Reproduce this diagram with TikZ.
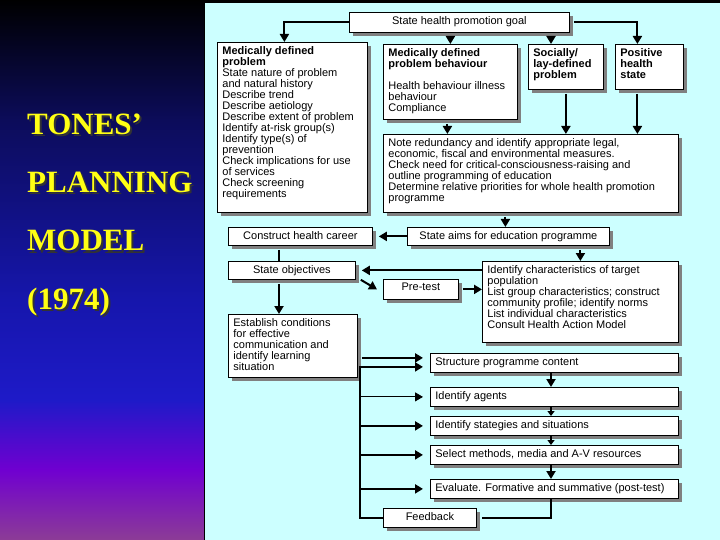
\documentclass[tikz,border=0pt]{standalone}
\usepackage{fontspec}
\setmainfont{Liberation Sans}
\newfontfamily\titleserif{Liberation Serif}
\usetikzlibrary{arrows.meta,shadows}

\definecolor{panelcyan}{RGB}{204,255,255}
\definecolor{shadowgray}{RGB}{128,128,128}
\definecolor{bgnavy}{RGB}{12,12,90}
\definecolor{bgblue}{RGB}{22,22,172}
\definecolor{bgroyal}{RGB}{30,26,200}
\definecolor{bgviolet}{RGB}{112,0,208}
\definecolor{bgmauve}{RGB}{140,60,150}
\definecolor{titleyellow}{RGB}{255,255,20}

% box of fixed outer size (#1 x #2, in pt), text set from the top
\newcommand{\stagetext}[3]{%
  \parbox[c][\dimexpr#2pt-8pt\relax][t]{\dimexpr#1pt-10pt\relax}{\lineskiplimit=-4pt\raggedright #3}}
% yellow title word with a dark copy behind it, lower right
\newcommand{\shadowword}[1]{%
  \makebox[0pt][l]{\hspace{2pt}\raisebox{-2pt}{\color{black!80}#1}}#1}

\begin{document}
\begin{tikzpicture}[
  x = 1pt, y = -1pt,
  % white boxes with a hard grey shadow to the lower right
  stage/.style     = {draw, line width=0.8pt, fill=white, anchor=north west,
                      inner xsep=5pt, inner ysep=4pt,
                      font=\fontsize{11}{11}\selectfont,
                      general shadow={fill=shadowgray, shadow xshift=4pt, shadow yshift=-4pt}},
  link/.style      = {line width=2pt, -{Triangle[length=8pt,width=9pt]}},
  shortlink/.style = {line width=2pt, -{Triangle[length=5pt,width=7pt]}},
  thinlink/.style  = {line width=1pt, -{Triangle[length=8pt,width=9pt]}},
  wire/.style      = {line width=2pt},
  heading/.style   = {font=\titleserif\bfseries\fontsize{31}{31}\selectfont,
                      text=titleyellow, anchor=base west, inner sep=0pt},
]
\useasboundingbox (0, 0) rectangle (720, 540);

% --- background: dark gradient on the left, pale cyan panel on the right
\fill[black] (0, 0) rectangle (720, 540);
\shade[top color=black,    bottom color=bgnavy]   (0, 0)   rectangle (205, 120);
\shade[top color=bgnavy,   bottom color=bgblue]   (0, 120) rectangle (205, 300);
\shade[top color=bgblue,   bottom color=bgroyal]  (0, 300) rectangle (205, 400);
\shade[top color=bgroyal,  bottom color=bgviolet] (0, 400) rectangle (205, 470);
\shade[top color=bgviolet, bottom color=bgmauve]  (0, 470) rectangle (205, 540);
\fill[panelcyan] (205, 3) rectangle (720, 540);
\draw[black, line width=1pt] (204.5, 3) -- (204.5, 540);

% --- title
\foreach \word/\ypos [count=\i] in {TONES’/135, PLANNING/193, MODEL/251, (1974)/309} {
  \node[heading] (title-\i) at (27, \ypos) {\shadowword{\word}};
}

% --- top part: goal and the four kinds of problem
\node[stage] (goal) at (349, 12) {\stagetext{220}{20}{\centering State health promotion goal}};
\node[stage] (medprob) at (217, 42) {\stagetext{150}{170}{%
  \textbf{Medically defined}\\\textbf{problem}\\
  State nature of problem\\and natural history\\Describe trend\\
  Describe aetiology\\Describe extent of problem\\
  Identify at-risk group(s)\\Identify type(s) of\\prevention\\
  Check implications for use\\of services\\Check screening\\requirements}};
\node[stage] (medbeh) at (383, 44) {\stagetext{134}{75}{%
  \textbf{Medically defined}\\\textbf{problem behaviour}\\[11pt]
  Health behaviour illness\\behaviour\\Compliance}};
\node[stage] (social) at (528, 44) {\stagetext{75}{45}{%
  \textbf{Socially/}\\\textbf{lay-defined}\\\textbf{problem}}};
\node[stage] (positive) at (615, 44) {\stagetext{68}{45}{%
  \textbf{Positive}\\\textbf{health}\\\textbf{state}}};
\node[stage] (note) at (383, 134) {\stagetext{295}{78}{%
  Note redundancy and identify appropriate legal,\\
  economic, fiscal and environmental measures.\\
  Check need for critical-consciousness-raising and\\
  outline programming of education\\
  Determine relative priorities for whole health promotion\\
  programme}};

% --- middle part: aims, objectives, target population
\node[stage] (career) at (228, 227) {\stagetext{144}{18}{\centering Construct health career}};
\node[stage] (aims) at (407, 227) {\stagetext{202}{18}{\centering State aims for education programme}};
\node[stage] (objectives) at (228, 261) {\stagetext{127}{18}{\centering State objectives}};
\node[stage] (target) at (482, 261) {\stagetext{196}{81}{%
  Identify characteristics of target\\population\\
  List group characteristics; construct\\
  community profile; identify norms\\
  List individual characteristics\\
  Consult Health Action Model}};
\node[stage] (pretest) at (383, 279) {\stagetext{75}{20}{\centering Pre-test}};
\node[stage] (conditions) at (228, 314) {\stagetext{129}{63}{%
  Establish conditions\\for effective\\communication and\\
  identify learning\\situation}};

% --- lower part: the programme steps and feedback
\node[stage] (structure) at (430, 353) {\stagetext{248}{19}{Structure programme content}};
\node[stage] (agents) at (430, 387) {\stagetext{248}{19}{Identify agents}};
\node[stage] (strategies) at (430, 416) {\stagetext{248}{19}{Identify stategies and situations}};
\node[stage] (methods) at (430, 445) {\stagetext{248}{19}{Select methods, media and A-V resources}};
\node[stage] (evaluate) at (430, 479) {\stagetext{248}{19}{Evaluate. Formative and summative (post-test)}};
\node[stage] (feedback) at (383, 508) {\stagetext{93}{19}{\centering Feedback}};

\coordinate (socialin) at ([xshift=23pt]social.north west);
\coordinate (spine) at (279, 0);
\coordinate (bus) at (360, 0);
\coordinate (stack) at (551, 0);

% --- connectors, top
\draw[link] (goal.west) -| ([xshift=-8pt]medprob.north);
\draw[link] ([yshift=-4pt]goal.south -| medbeh.north) -- (medbeh.north);
\draw[link] ([yshift=-4pt]goal.south -| socialin) -- (socialin);
\draw[link] ([xshift=4pt]goal.east) -| ([xshift=-12pt]positive.north);
\draw[link] ([xshift=-3pt,yshift=-4pt]medbeh.south) -- ([xshift=-3pt]medbeh.south |- note.north);
\draw[link] ([yshift=-4pt]social.south) -- (social.south |- note.north);
\draw[link] ([xshift=-12pt,yshift=-4pt]positive.south) -- ([xshift=-12pt]positive.south |- note.north);
\draw[link] ([xshift=-3pt,yshift=-4pt]note.south -| aims.north) -- ([xshift=-3pt]aims.north);

% --- connectors, middle
\draw[link] (aims.west) -- ([xshift=6pt]career.east);
\draw[wire] ([yshift=-4pt]career.south -| spine) -- (objectives.north -| spine);
\draw[link] ([yshift=-4pt]aims.south -| target.north) -- (target.north);
\draw[link] (objectives.east -| target.west) -- ([xshift=6pt]objectives.east);
\draw[link] ([xshift=5pt]objectives.south east) -- ([xshift=-6pt]pretest.west);
\draw[link] ([xshift=4pt]pretest.east) -- (pretest.east -| target.west);
\draw[link] ([yshift=-4pt]objectives.south -| spine) -- (conditions.north -| spine);

% --- connectors, bottom
\draw[link] ([xshift=4pt,yshift=5pt]structure.west -| conditions.east) -- ([xshift=-7pt,yshift=5pt]structure.west);
\draw[link, line width=2.5pt] (feedback.west) -| ([yshift=-4pt]structure.west -| bus)
  -- ([xshift=-7pt,yshift=-4pt]structure.west);
\draw[thinlink] (agents.west -| bus) -- ([xshift=-7pt]agents.west);
\draw[link] (strategies.west -| bus) -- ([xshift=-7pt]strategies.west);
\draw[link] (methods.west -| bus) -- ([xshift=-7pt]methods.west);
\draw[link] (evaluate.west -| bus) -- ([xshift=-7pt]evaluate.west);
\draw[link] (structure.south -| stack) -- (agents.north -| stack);
\draw[shortlink] (agents.south -| stack) -- (strategies.north -| stack);
\draw[shortlink] (strategies.south -| stack) -- (methods.north -| stack);
\draw[link] (methods.south -| stack) -- (evaluate.north -| stack);
\draw[wire] (evaluate.south -| stack) |- ([xshift=5pt]feedback.east);

\end{tikzpicture}
\end{document}
